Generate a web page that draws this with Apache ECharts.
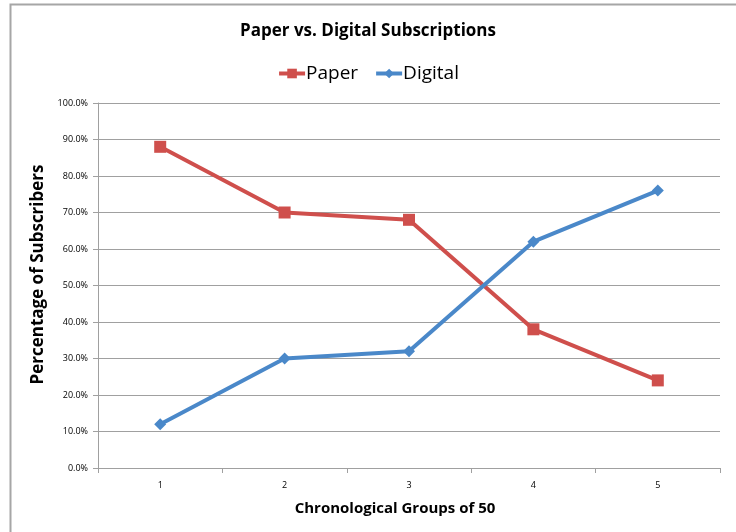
<!DOCTYPE html>
<html><head><meta charset="utf-8">
<script src="https://cdn.jsdelivr.net/npm/echarts@6/dist/echarts.min.js"></script>
<style>html,body{margin:0;padding:0;background:#fff}#c{width:736px;height:532px}</style>
</head><body><div id="c"></div>
<script>
const categories = ['1','2','3','4','5'];
const paper = [88, 70, 68, 38, 24];
const digital = [12, 30, 32, 62, 76];
const yTicks = [0,10,20,30,40,50,60,70,80,90,100];

const font = '"Open Sans", "Noto Sans", sans-serif';
const chart = echarts.init(document.getElementById('c'), null, {renderer:'canvas'});
chart.setOption({
  animation: false,
  backgroundColor: '#fff',
  graphic: [{
    type: 'rect', shape: {x: 10.5, y: 4.5, width: 740, height: 560},
    style: {fill: 'none', stroke: '#a6a6a6', lineWidth: 2}, silent: true, z: -1
  }],
  title: {
    text: 'Paper vs. Digital Subscriptions', left: 'center', top: 18,
    textStyle: {fontFamily: font, fontSize: 17, fontWeight: 'bold', color: '#000'}
  },
  legend: {
    top: 59, left: 'center', itemGap: 16, itemWidth: 26, itemHeight: 12,
    lineStyle: {width: 4},
    textStyle: {fontFamily: font, fontSize: 19, color: '#000', padding: [0,0,0,-4]},
    data: ['Paper','Digital']
  },
  grid: {left: 98, right: 16, top: 103, bottom: 64},
  xAxis: {
    type: 'category', data: categories, boundaryGap: true,
    name: 'Chronological Groups of 50', nameLocation: 'middle', nameGap: 33,
    nameTextStyle: {fontFamily: font, fontSize: 15, fontWeight: 'bold', color: '#000', padding: [0,28,0,0]},
    axisLine: {lineStyle: {color: '#a0a0a0', width: 1}},
    axisTick: {show: true, inside: false, length: 5, alignWithLabel: false, lineStyle: {color: '#a0a0a0'}},
    axisLabel: {fontFamily: font, fontSize: 9, color: '#000', margin: 13},
    splitLine: {show: false}
  },
  yAxis: {
    type: 'value', min: 0, max: 100, interval: 10,
    name: 'Percentage of Subscribers', nameLocation: 'middle', nameGap: 49,
    nameTextStyle: {fontFamily: font, fontSize: 17, fontWeight: 'bold', color: '#000', padding: [0,0,0,22]},
    axisLine: {show: true, lineStyle: {color: '#a0a0a0', width: 1}},
    axisTick: {show: true, length: 5, lineStyle: {color: '#a0a0a0'}},
    axisLabel: {fontFamily: font, fontSize: 9, color: '#000', margin: 10,
      formatter: v => yTicks.includes(v) ? v.toFixed(1) + '%' : ''},
    splitLine: {show: true, lineStyle: {color: '#a0a0a0', width: 1}}
  },
  series: [
    {name: 'Paper', type: 'line', data: paper, symbol: 'rect', symbolSize: 12,
     lineStyle: {color: '#cf4f4c', width: 4}, itemStyle: {color: '#cf4f4c'},
     emphasis: {disabled: true}},
    {name: 'Digital', type: 'line', data: digital, symbol: 'diamond', symbolSize: 12,
     lineStyle: {color: '#4a88c9', width: 4}, itemStyle: {color: '#4a88c9'},
     emphasis: {disabled: true}}
  ]
});
</script></body></html>
